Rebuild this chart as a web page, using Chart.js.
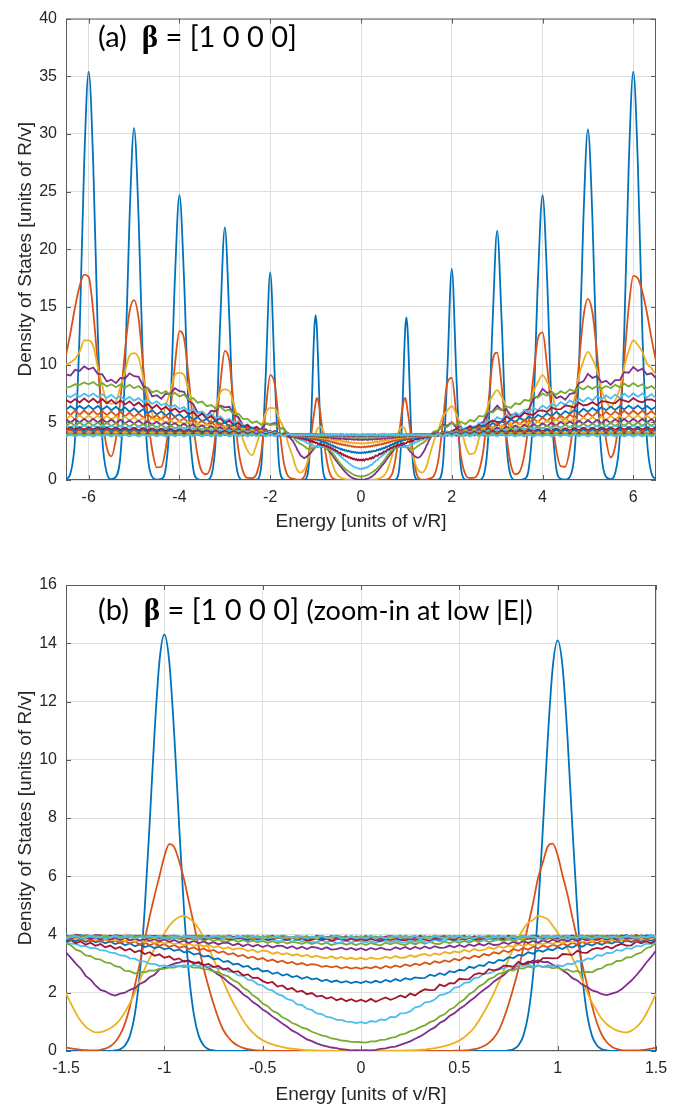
<!DOCTYPE html>
<html>
<head>
<meta charset="utf-8">
<title>Density of States, beta = [1 0 0 0]</title>
<script src="https://cdn.jsdelivr.net/npm/chart.js@4.4.1/dist/chart.umd.min.js"></script>
<style>
  html, body { margin: 0; padding: 0; background: #fff; }
  #wrap { position: relative; width: 682px; height: 1109px; }
  canvas { position: absolute; left: 0; }
  #dosA { top: 0; }
  #dosB { top: 540px; }
</style>
</head>
<body>
<div id="wrap">
  <canvas id="dosA" width="682" height="540"></canvas>
  <canvas id="dosB" width="682" height="569"></canvas>
</div>
<script>
// |E| grid shared by all curves: 0.025 steps up to 1.5, then 0.1 steps out to 6.5
const absE = [];
for (let i = 0; i <= 60; i++) absE.push(+(i * 0.025).toFixed(3));
for (let j = 16; j <= 65; j++) absE.push(j / 10);

// tick marks
const ticksEa = [-6, -4, -2, 0, 2, 4, 6];
const ticksDa = [0, 5, 10, 15, 20, 25, 30, 35, 40];
const ticksEb = [-1.5, -1, -0.5, 0, 0.5, 1, 1.5];
const ticksDb = [0, 2, 4, 6, 8, 10, 12, 14, 16];

// DOS curves. "p" arrays: E = +absE[0..110]; "n" arrays: E = -absE[1..110]
const dos01p = [
0,0,0,0,0,0,0,0,0,0,
0,0,0,0,0,0,0,0,0,0,
0,0,0,0,0,0,0,0,0,0,
0.02,0.06,0.19,0.51,1.24,2.6,4.78,7.67,10.76,13.18,
14.1,13.18,10.76,7.67,4.78,2.6,1.24,0.51,0.19,0.06,
0.02,0,0,0,0,0,0,0,0,0,
0,0,0.04,1.15,9.16,18.3,9.16,1.15,0.04,0,
0,0,0.37,3.52,13.7,21.6,13.7,3.52,0.37,0,
0,0.1,1.08,6.16,17.5,24.7,17.5,6.16,1.08,0.1,
0.02,0.27,2.13,9.3,22.6,30.4,22.6,9.3,2.13,0.27,
0.08,0.6,3.56,12.8,27.4,35.4,27.4,12.8,3.56,0.6,
0.06];
const dos01n = [
0,0,0,0,0,0,0,0,0,
0,0,0,0,0,0,0,0,0,0,
0,0,0,0,0,0,0,0,0,0,
0.02,0.06,0.19,0.52,1.26,2.64,4.85,7.78,10.91,13.37,
14.3,13.37,10.91,7.78,4.85,2.64,1.26,0.52,0.19,0.06,
0.02,0,0,0,0,0,0,0,0,0,
0,0,0.04,1.13,9.0,18.0,9.0,1.13,0.04,0,
0,0,0.37,3.57,13.9,21.9,13.9,3.57,0.37,0,
0,0.1,1.08,6.16,17.5,24.7,17.5,6.16,1.08,0.1,
0.02,0.27,2.14,9.33,22.7,30.5,22.7,9.33,2.14,0.27,
0.08,0.6,3.56,12.8,27.4,35.4,27.4,12.8,3.56,0.6,
0.06];

const dos02p = [
0,0,0,0,0,0,0,0,0,0,
0,0,0,0,0,0,0,0,0,0.01,
0.01,0.02,0.03,0.06,0.1,0.17,0.28,0.45,0.7,1.1,
1.6,2.17,2.8,3.53,4.32,5.08,5.93,6.48,7.03,7.12,
6.72,6.02,5.37,4.58,3.82,2.98,2.26,1.54,0.96,0.55,
0.3,0.15,0.07,0.03,0.02,0.02,0.02,0.03,0.05,0.08,
0.12,0.33,1.64,4.8,8.4,8.85,5.7,2.1,0.5,0.17,
0.2,0.8,2.7,6.4,10.3,11.05,8.1,4.0,1.35,0.5,
0.75,2.2,5.1,9.1,12.3,12.8,9.9,5.8,2.7,1.2,
1.15,2.65,5.65,10.0,14.1,15.7,14.5,11.0,6.8,3.5,
1.95,2.9,5.8,10.4,15.0,17.7,17.5,16.3,14.5,12.3,
10.3];
const dos02n = [
0,0,0,0,0,0,0,0,0,
0,0,0,0,0,0,0,0,0,0.01,
0.01,0.02,0.04,0.06,0.11,0.18,0.29,0.47,0.72,1.12,
1.62,2.2,2.84,3.58,4.36,5.12,5.9,6.52,7.0,7.1,
6.68,6.0,5.33,4.6,3.8,3.0,2.24,1.52,0.95,0.56,
0.31,0.16,0.08,0.04,0.02,0.02,0.03,0.04,0.06,0.09,
0.12,0.3,1.5,4.6,8.3,9.1,6.0,2.3,0.55,0.17,
0.18,0.75,2.6,6.3,10.3,11.2,8.3,4.1,1.4,0.5,
0.7,2.1,5.0,9.0,12.3,12.9,10.0,5.9,2.8,1.15,
1.1,2.6,5.6,9.9,14.0,15.6,14.6,11.2,7.0,3.6,
2.05,2.8,5.5,10.0,14.6,17.6,17.8,16.8,15.0,12.8,
10.8];

const dos03p = [
0,0,0,0,0,0,0.01,0.01,0.01,0.02,
0.02,0.03,0.04,0.05,0.07,0.1,0.13,0.17,0.22,0.28,
0.36,0.47,0.62,0.8,1.05,1.33,1.64,1.98,2.36,2.74,
3.14,3.52,3.88,4.18,4.4,4.5,4.63,4.6,4.52,4.3,
4.06,3.8,3.52,3.2,2.84,2.44,2.02,1.66,1.36,1.1,
0.92,0.8,0.71,0.66,0.64,0.7,0.82,1.0,1.27,1.6,
1.97,3.3,4.3,5.5,6.0,6.4,5.7,4.7,3.0,2.25,
2.35,3.6,4.9,6.5,7.3,7.8,7.2,6.3,4.8,4.1,
3.85,4.7,5.9,7.6,8.5,9.1,8.5,7.6,6.1,5.4,
5.0,5.8,7.0,9.0,10.3,11.1,10.5,9.5,7.8,6.9,
6.3,6.9,7.9,9.8,11.2,12.1,11.7,11.1,10.1,9.7,
9.1];
const dos03n = [
0,0,0,0,0,0.01,0.01,0.01,0.02,
0.02,0.03,0.04,0.06,0.08,0.1,0.14,0.18,0.23,0.29,
0.37,0.48,0.63,0.82,1.06,1.35,1.66,2.0,2.38,2.76,
3.16,3.54,3.9,4.2,4.42,4.56,4.64,4.6,4.48,4.3,
4.04,3.78,3.5,3.18,2.82,2.42,2.0,1.64,1.34,1.08,
0.9,0.78,0.7,0.65,0.64,0.71,0.84,1.03,1.3,1.63,
1.97,3.1,4.45,5.3,6.2,6.25,5.8,4.4,3.1,2.15,
2.55,3.5,5.2,6.5,7.7,7.85,7.6,6.3,5.2,4.0,
4.1,4.7,6.4,7.8,9.1,9.3,9.1,7.7,6.5,5.3,
5.3,5.7,7.3,8.9,10.6,11.0,10.8,9.4,8.1,6.8,
6.6,6.8,8.2,9.8,11.6,12.1,12.1,11.1,10.5,10.2,
10.0];

const dos04p = [
0.02,0.03,0.02,0.04,0.07,0.09,0.13,0.15,0.21,0.27,
0.33,0.42,0.5,0.6,0.72,0.81,0.96,1.05,1.2,1.3,
1.44,1.55,1.7,1.82,1.97,2.1,2.22,2.38,2.5,2.6,
2.76,2.83,2.96,2.98,3.07,3.02,3.12,3.05,3.06,2.96,
2.9,2.76,2.66,2.5,2.42,2.28,2.2,2.08,2.03,1.95,
1.92,1.97,2.02,2.12,2.27,2.42,2.6,2.8,3.03,3.22,
3.45,4.1,4.25,4.8,4.7,5.0,4.55,4.6,4.2,4.45,
4.3,4.85,5.05,5.85,5.95,6.45,6.05,6.15,5.6,5.75,
5.45,6.0,6.15,7.05,7.25,7.9,7.55,7.65,7.1,7.25,
6.95,7.45,7.55,8.4,8.55,9.2,8.85,9.0,8.45,8.6,
8.25,8.65,8.65,9.35,9.3,9.8,9.45,9.65,9.15,9.25,
8.8];
const dos04n = [
0.03,0.02,0.05,0.06,0.1,0.12,0.16,0.2,0.26,
0.34,0.4,0.51,0.62,0.7,0.83,0.94,1.07,1.18,1.32,
1.42,1.57,1.68,1.84,1.95,2.12,2.24,2.36,2.52,2.62,
2.74,2.86,2.93,3.02,3.04,3.08,3.1,3.03,3.0,2.93,
2.86,2.8,2.62,2.53,2.38,2.3,2.16,2.1,2.0,1.97,
1.9,1.95,2.05,2.1,2.25,2.45,2.58,2.83,3.0,3.2,
3.38,3.8,4.45,4.5,4.95,4.8,4.9,4.4,4.55,4.2,
4.6,4.7,5.45,5.65,6.35,6.3,6.45,5.95,6.0,5.55,
5.85,5.85,6.6,6.85,7.65,7.7,7.95,7.45,7.5,7.05,
7.35,7.25,7.95,8.15,8.95,9.0,9.25,8.8,8.85,8.4,
8.7,8.55,9.15,9.2,9.75,9.6,9.85,9.45,9.55,9.05,
9.15];

const dos05p = [
0.3,0.29,0.33,0.33,0.38,0.39,0.45,0.48,0.56,0.6,
0.68,0.73,0.82,0.88,0.99,1.05,1.19,1.26,1.42,1.5,
1.67,1.77,1.95,2.05,2.22,2.31,2.47,2.53,2.66,2.68,
2.78,2.76,2.85,2.83,2.9,2.86,2.93,2.88,2.9,2.84,
2.87,2.78,2.8,2.72,2.75,2.67,2.72,2.7,2.8,2.84,
2.96,2.98,3.09,3.1,3.21,3.22,3.33,3.38,3.53,3.58,
3.72,4.2,4.3,4.7,4.6,4.95,4.75,5.05,4.85,5.2,
5.1,5.55,5.5,5.95,5.85,6.2,6.05,6.4,6.25,6.65,
6.55,6.95,6.85,7.25,7.15,7.5,7.3,7.6,7.4,7.7,
7.5,7.85,7.7,8.05,7.85,8.15,7.9,8.15,7.9,8.15,
7.95,8.25,8.05,8.35,8.1,8.4,8.1,8.3,7.95,8.15,
7.85];
const dos05n = [
0.31,0.31,0.35,0.36,0.41,0.43,0.5,0.54,0.6,
0.66,0.76,0.8,0.9,0.96,1.08,1.16,1.3,1.38,1.54,
1.63,1.8,1.91,2.08,2.18,2.35,2.43,2.56,2.61,2.71,
2.73,2.8,2.81,2.87,2.86,2.91,2.88,2.92,2.86,2.87,
2.82,2.83,2.76,2.77,2.7,2.72,2.66,2.74,2.75,2.88,
2.91,3.02,3.04,3.14,3.16,3.26,3.28,3.42,3.48,3.63,
3.7,4.0,4.45,4.5,4.85,4.75,4.95,4.8,5.1,4.95,
5.3,5.3,5.75,5.7,6.1,6.0,6.35,6.2,6.5,6.4,
6.8,6.7,7.1,7.0,7.4,7.25,7.55,7.35,7.7,7.5,
7.75,7.6,8.0,7.8,8.15,7.95,8.25,8.0,8.3,8.05,
8.3,8.1,8.4,8.2,8.5,8.3,8.45,8.25,8.3,8.1,
8.0];

const dos06p = [
0.99,0.95,1.03,1.0,1.08,1.06,1.17,1.16,1.29,1.3,
1.36,1.5,1.53,1.67,1.69,1.77,1.92,1.95,2.02,2.18,
2.2,2.34,2.36,2.5,2.53,2.66,2.67,2.72,2.84,2.82,
2.91,2.87,2.96,2.92,2.97,2.9,2.95,2.89,2.95,2.9,
2.95,2.91,3.0,2.98,3.09,3.07,3.18,3.16,3.29,3.27,
3.37,3.36,3.47,3.44,3.53,3.51,3.61,3.59,3.69,3.68,
3.75,3.95,3.8,4.12,3.98,4.3,4.15,4.55,4.38,4.72,
4.55,4.95,4.8,5.2,5.02,5.45,5.25,5.65,5.45,5.85,
5.65,6.08,5.85,6.25,6.05,6.45,6.2,6.6,6.38,6.75,
6.52,6.9,6.65,7.05,6.8,7.15,6.9,7.28,6.98,7.33,
7.05,7.4,7.12,7.48,7.18,7.52,7.2,7.5,7.15,7.45,
7.1];
const dos06n = [
0.96,1.0,1.01,1.07,1.07,1.15,1.17,1.27,1.29,
1.41,1.45,1.58,1.6,1.74,1.78,1.9,1.95,2.08,2.12,
2.25,2.29,2.42,2.45,2.58,2.6,2.72,2.73,2.83,2.83,
2.9,2.89,2.95,2.91,2.96,2.91,2.95,2.9,2.94,2.89,
2.94,2.92,2.99,2.99,3.08,3.08,3.17,3.18,3.27,3.28,
3.36,3.38,3.45,3.46,3.53,3.53,3.6,3.6,3.68,3.69,
3.74,3.84,3.97,3.92,4.2,4.08,4.42,4.3,4.62,4.5,
4.82,4.7,5.08,4.95,5.3,5.15,5.52,5.35,5.72,5.55,
5.95,5.78,6.15,5.95,6.32,6.15,6.5,6.3,6.65,6.48,
6.82,6.6,6.95,6.75,7.1,6.88,7.2,6.95,7.28,7.05,
7.38,7.12,7.45,7.2,7.5,7.25,7.5,7.2,7.45,7.18,
7.35];

const dos07p = [
1.76,1.69,1.79,1.69,1.77,1.84,1.76,1.82,1.91,1.84,
1.97,1.91,2.03,2.12,2.09,2.1,2.28,2.22,2.33,2.32,
2.48,2.46,2.47,2.62,2.67,2.64,2.81,2.77,2.8,2.93,
2.92,2.89,3.06,2.98,3.02,3.11,3.03,3.19,3.19,3.18,
3.19,3.33,3.32,3.3,3.44,3.38,3.37,3.49,3.54,3.51,
3.59,3.52,3.62,3.68,3.62,3.63,3.76,3.7,3.77,3.7,
3.8,3.96,3.84,4.18,3.93,4.2,4.45,4.22,4.41,4.65,
4.41,4.77,4.59,4.93,5.16,5.03,5.04,5.5,5.28,5.53,
5.45,5.82,5.69,5.64,6.0,6.04,5.9,6.29,6.12,6.14,
6.46,6.4,6.27,6.7,6.46,6.54,6.75,6.49,6.84,6.8,
6.69,6.67,7.01,6.89,6.76,7.1,6.83,6.73,6.97,6.99,
6.79];
const dos07n = [
1.7,1.78,1.71,1.8,1.74,1.85,1.8,1.9,1.87,
1.99,1.95,2.07,2.03,2.16,2.12,2.25,2.21,2.37,2.33,
2.4,2.52,2.5,2.63,2.6,2.74,2.71,2.84,2.8,2.92,
2.88,2.99,2.95,3.06,3.0,3.11,3.06,3.18,3.13,3.25,
3.2,3.32,3.27,3.39,3.33,3.45,3.39,3.51,3.45,3.57,
3.51,3.62,3.56,3.67,3.61,3.72,3.65,3.76,3.7,3.8,
3.76,3.72,4.05,3.9,4.25,4.02,4.4,4.2,4.6,4.38,
4.78,4.55,4.95,4.75,5.15,4.95,5.35,5.12,5.55,5.3,
5.75,5.5,5.9,5.68,6.05,5.85,6.2,5.95,6.35,6.1,
6.5,6.22,6.6,6.35,6.72,6.45,6.82,6.55,6.9,6.6,
6.95,6.65,7.02,6.7,7.05,6.75,7.08,6.72,7.02,6.7,
6.95];

const dos08p = [
2.33,2.4,2.34,2.41,2.35,2.44,2.38,2.47,2.4,2.5,
2.45,2.53,2.5,2.51,2.62,2.57,2.67,2.61,2.74,2.7,
2.79,2.76,2.89,2.85,2.95,2.92,3.06,3.01,3.13,3.1,
3.22,3.19,3.3,3.28,3.39,3.34,3.46,3.41,3.5,3.46,
3.56,3.5,3.6,3.55,3.64,3.58,3.68,3.62,3.71,3.65,
3.74,3.69,3.77,3.71,3.8,3.74,3.82,3.76,3.84,3.78,
3.85,3.78,4.05,3.88,4.2,4.0,4.35,4.12,4.48,4.28,
4.62,4.4,4.75,4.55,4.95,4.72,5.1,4.88,5.25,5.02,
5.38,5.15,5.5,5.28,5.65,5.42,5.78,5.52,5.9,5.62,
5.98,5.72,6.08,5.82,6.18,5.9,6.25,5.98,6.32,6.05,
6.36,6.08,6.4,6.12,6.45,6.15,6.45,6.12,6.42,6.1,
6.38];
const dos08n = [
2.38,2.33,2.4,2.35,2.42,2.37,2.45,2.4,2.49,
2.46,2.54,2.48,2.58,2.54,2.64,2.59,2.7,2.65,2.76,
2.73,2.84,2.8,2.92,2.89,3.0,2.97,3.09,3.06,3.18,
3.15,3.27,3.24,3.35,3.31,3.42,3.39,3.49,3.44,3.54,
3.49,3.58,3.53,3.62,3.57,3.66,3.6,3.7,3.63,3.73,
3.67,3.76,3.7,3.78,3.73,3.81,3.75,3.83,3.77,3.85,
3.8,3.95,3.85,4.1,3.95,4.28,4.08,4.42,4.2,4.55,
4.35,4.7,4.48,4.85,4.62,5.0,4.78,5.18,4.92,5.3,
5.08,5.45,5.22,5.6,5.35,5.72,5.48,5.85,5.58,5.95,
5.68,6.05,5.78,6.15,5.85,6.22,5.92,6.3,6.0,6.35,
6.05,6.4,6.1,6.42,6.12,6.45,6.15,6.42,6.12,6.4,
6.1];

const dos09p = [
2.82,2.88,2.84,2.9,2.83,2.92,2.86,2.94,2.88,2.97,
2.92,3.0,2.95,3.04,2.98,3.08,3.03,3.11,3.06,3.17,
3.11,3.22,3.17,3.27,3.22,3.33,3.28,3.39,3.34,3.45,
3.39,3.5,3.44,3.54,3.48,3.58,3.52,3.62,3.56,3.65,
3.59,3.69,3.62,3.72,3.65,3.74,3.68,3.77,3.7,3.79,
3.72,3.81,3.74,3.83,3.76,3.85,3.78,3.87,3.8,3.89,
3.82,4.02,3.82,4.14,3.92,4.25,4.02,4.38,4.12,4.5,
4.22,4.6,4.35,4.75,4.48,4.88,4.6,5.0,4.7,5.1,
4.82,5.22,4.92,5.32,5.02,5.42,5.1,5.5,5.2,5.6,
5.3,5.68,5.38,5.75,5.45,5.82,5.5,5.88,5.55,5.92,
5.6,5.95,5.65,6.0,5.68,6.02,5.68,6.0,5.66,5.98,
5.62];
const dos09n = [
2.87,2.83,2.89,2.84,2.91,2.87,2.92,2.89,2.96,
2.98,2.94,3.02,2.97,3.06,3.01,3.1,3.05,3.14,3.09,
3.19,3.14,3.24,3.19,3.3,3.25,3.36,3.31,3.42,3.37,
3.47,3.42,3.52,3.46,3.56,3.5,3.6,3.54,3.64,3.57,
3.67,3.61,3.7,3.63,3.73,3.66,3.76,3.69,3.78,3.71,
3.8,3.73,3.82,3.75,3.84,3.77,3.86,3.79,3.88,3.81,
3.9,3.78,4.05,3.88,4.18,3.98,4.3,4.08,4.42,4.2,
4.55,4.3,4.68,4.42,4.8,4.55,4.92,4.65,5.05,4.78,
5.15,4.88,5.25,4.98,5.35,5.08,5.45,5.15,5.55,5.25,
5.62,5.35,5.7,5.42,5.78,5.48,5.85,5.52,5.9,5.58,
5.94,5.62,5.98,5.65,6.0,5.68,6.02,5.66,6.0,5.65,
5.98];

const dos10p = [
3.2,3.14,3.21,3.16,3.17,3.24,3.18,3.26,3.2,3.21,
3.29,3.23,3.3,3.33,3.27,3.35,3.3,3.4,3.35,3.42,
3.38,3.47,3.41,3.5,3.45,3.47,3.56,3.5,3.59,3.54,
3.62,3.57,3.66,3.6,3.68,3.62,3.7,3.66,3.73,3.68,
3.76,3.7,3.77,3.72,3.8,3.74,3.81,3.76,3.84,3.78,
3.84,3.79,3.87,3.81,3.88,3.82,3.9,3.83,3.9,3.85,
3.9,3.8,4.06,3.88,4.15,3.95,4.25,4.04,4.32,4.12,
4.42,4.2,4.5,4.3,4.62,4.4,4.75,4.5,4.82,4.6,
4.92,4.68,5.0,4.75,5.1,4.82,5.18,4.9,5.25,4.98,
5.32,5.02,5.36,5.08,5.42,5.12,5.48,5.16,5.52,5.2,
5.56,5.24,5.58,5.26,5.6,5.28,5.62,5.27,5.6,5.25,
5.58];
const dos10n = [
3.15,3.2,3.16,3.23,3.17,3.25,3.19,3.21,3.27,
3.22,3.3,3.25,3.32,3.28,3.36,3.31,3.39,3.34,3.43,
3.45,3.39,3.48,3.43,3.51,3.53,3.48,3.56,3.51,3.6,
3.56,3.64,3.59,3.66,3.61,3.69,3.64,3.71,3.67,3.74,
3.69,3.76,3.71,3.78,3.73,3.8,3.75,3.82,3.77,3.84,
3.78,3.85,3.8,3.87,3.81,3.88,3.83,3.89,3.84,3.9,
3.86,4.0,3.85,4.1,3.92,4.2,4.0,4.3,4.08,4.38,
4.18,4.48,4.28,4.58,4.36,4.68,4.45,4.78,4.55,4.86,
4.65,4.95,4.72,5.05,4.8,5.12,4.88,5.2,4.95,5.28,
5.02,5.35,5.06,5.4,5.1,5.45,5.15,5.5,5.18,5.52,
5.22,5.56,5.24,5.58,5.26,5.6,5.28,5.6,5.26,5.6,
5.24];

const dos11p = [
3.53,3.46,3.54,3.48,3.55,3.49,3.47,3.56,3.5,3.57,
3.49,3.57,3.51,3.59,3.52,3.6,3.54,3.55,3.62,3.56,
3.64,3.57,3.66,3.6,3.68,3.62,3.7,3.64,3.65,3.73,
3.67,3.75,3.69,3.77,3.71,3.78,3.72,3.8,3.74,3.82,
3.76,3.83,3.77,3.85,3.78,3.86,3.8,3.87,3.81,3.88,
3.82,3.89,3.83,3.9,3.85,3.91,3.86,3.92,3.87,3.93,
3.88,4.05,3.85,4.1,3.9,4.18,3.98,4.25,4.05,4.3,
4.1,4.38,4.18,4.48,4.25,4.56,4.32,4.64,4.4,4.72,
4.48,4.8,4.54,4.85,4.6,4.92,4.66,4.98,4.72,5.04,
4.76,5.08,4.8,5.14,4.86,5.18,4.88,5.22,4.92,5.24,
4.95,5.26,4.97,5.29,4.98,5.3,5.0,5.29,4.98,5.28,
4.96];
const dos11n = [
3.47,3.54,3.48,3.55,3.5,3.48,3.56,3.49,3.55,
3.57,3.5,3.58,3.51,3.6,3.53,3.61,3.62,3.55,3.63,
3.57,3.65,3.59,3.67,3.6,3.69,3.63,3.71,3.72,3.66,
3.74,3.68,3.76,3.7,3.78,3.71,3.79,3.73,3.81,3.75,
3.83,3.76,3.84,3.78,3.85,3.79,3.86,3.8,3.88,3.81,
3.89,3.82,3.9,3.83,3.91,3.84,3.92,3.86,3.93,3.87,
3.92,3.82,4.02,3.88,4.1,3.95,4.18,4.02,4.25,4.08,
4.36,4.15,4.45,4.22,4.52,4.3,4.6,4.36,4.68,4.45,
4.75,4.52,4.82,4.58,4.88,4.64,4.94,4.7,5.0,4.76,
5.05,4.8,5.1,4.84,5.15,4.88,5.18,4.9,5.22,4.94,
5.25,4.96,5.28,4.98,5.3,5.0,5.3,4.98,5.29,4.98,
5.27];

const dos12p = [
3.7,3.64,3.71,3.65,3.63,3.72,3.66,3.73,3.67,3.64,
3.73,3.66,3.74,3.68,3.75,3.69,3.67,3.76,3.7,3.77,
3.71,3.78,3.72,3.8,3.74,3.81,3.75,3.78,3.83,3.77,
3.84,3.78,3.86,3.79,3.87,3.8,3.88,3.82,3.85,3.89,
3.83,3.9,3.84,3.91,3.85,3.92,3.86,3.88,3.93,3.87,
3.94,3.88,3.95,3.89,3.96,3.9,3.92,3.96,3.9,3.97,
3.91,3.82,4.06,3.88,4.12,3.92,4.16,3.98,4.22,4.02,
4.28,4.05,4.34,4.1,4.4,4.18,4.46,4.24,4.52,4.3,
4.58,4.34,4.62,4.4,4.68,4.44,4.72,4.48,4.76,4.52,
4.8,4.55,4.84,4.6,4.88,4.62,4.9,4.64,4.93,4.66,
4.95,4.68,4.96,4.7,4.98,4.71,4.99,4.7,4.97,4.7,
4.96];
const dos12n = [
3.64,3.7,3.65,3.71,3.69,3.64,3.72,3.66,3.73,
3.67,3.74,3.68,3.72,3.75,3.69,3.76,3.7,3.77,3.71,
3.78,3.73,3.79,3.74,3.81,3.75,3.82,3.77,3.76,3.83,
3.78,3.85,3.8,3.86,3.81,3.87,3.82,3.84,3.89,3.83,
3.9,3.84,3.91,3.86,3.88,3.92,3.87,3.93,3.88,3.94,
3.89,3.95,3.9,3.96,3.9,3.94,3.97,3.91,3.97,3.92,
3.97,4.02,3.86,4.08,3.92,4.12,3.96,4.18,4.0,4.22,
4.06,4.3,4.1,4.36,4.14,4.42,4.2,4.48,4.26,4.54,
4.32,4.6,4.36,4.64,4.4,4.7,4.44,4.74,4.48,4.78,
4.52,4.82,4.56,4.86,4.6,4.9,4.62,4.92,4.64,4.95,
4.66,4.97,4.68,4.98,4.7,5.0,4.7,4.99,4.7,4.98,
4.69];

const dos13p = [
3.77,3.72,3.78,3.71,3.76,3.79,3.73,3.8,3.74,3.72,
3.79,3.74,3.81,3.75,3.73,3.82,3.76,3.8,3.83,3.77,
3.8,3.85,3.78,3.84,3.86,3.8,3.87,3.81,3.84,3.88,
3.82,3.89,3.84,3.87,3.9,3.85,3.91,3.86,3.89,3.92,
3.86,3.93,3.87,3.91,3.94,3.88,3.95,3.89,3.92,3.96,
3.9,3.96,3.91,3.94,3.97,3.92,3.98,3.93,3.96,3.99,
3.93,4.04,3.86,4.08,3.9,4.13,3.94,4.16,3.98,4.2,
4.02,4.24,4.05,4.29,4.1,4.33,4.14,4.38,4.2,4.42,
4.24,4.46,4.27,4.5,4.32,4.53,4.35,4.57,4.38,4.6,
4.4,4.64,4.43,4.66,4.46,4.68,4.48,4.71,4.5,4.72,
4.52,4.74,4.53,4.75,4.54,4.76,4.54,4.76,4.53,4.75,
4.52];
const dos13n = [
3.78,3.72,3.79,3.73,3.71,3.78,3.74,3.81,3.75,
3.73,3.8,3.76,3.82,3.76,3.83,3.78,3.77,3.84,3.79,
3.85,3.79,3.86,3.8,3.84,3.87,3.82,3.88,3.83,3.86,
3.9,3.84,3.91,3.86,3.89,3.92,3.87,3.93,3.88,3.91,
3.94,3.89,3.95,3.9,3.93,3.96,3.9,3.97,3.92,3.95,
3.98,3.93,3.97,3.94,3.99,3.93,3.98,3.95,4.0,3.94,
3.97,3.88,4.06,3.92,4.1,3.96,4.14,4.0,4.18,4.02,
4.24,4.06,4.28,4.1,4.32,4.14,4.36,4.18,4.4,4.22,
4.44,4.26,4.48,4.3,4.52,4.34,4.56,4.36,4.58,4.4,
4.62,4.42,4.64,4.45,4.67,4.47,4.69,4.5,4.7,4.52,
4.73,4.53,4.74,4.54,4.75,4.55,4.76,4.55,4.75,4.54,
4.74];

const dos14p = [
3.84,3.79,3.86,3.8,3.78,3.85,3.81,3.87,3.82,3.8,
3.86,3.81,3.88,3.82,3.8,3.87,3.83,3.89,3.84,3.82,
3.88,3.83,3.9,3.85,3.82,3.89,3.86,3.91,3.87,3.84,
3.9,3.86,3.92,3.87,3.85,3.91,3.88,3.93,3.89,3.86,
3.92,3.88,3.94,3.89,3.87,3.93,3.9,3.95,3.91,3.88,
3.94,3.9,3.96,3.91,3.89,3.95,3.92,3.97,3.93,3.9,
3.95,3.86,4.06,3.9,4.1,3.91,4.12,3.95,4.15,3.98,
4.18,3.99,4.22,4.03,4.26,4.07,4.28,4.1,4.32,4.13,
4.35,4.15,4.38,4.18,4.4,4.22,4.43,4.24,4.46,4.27,
4.48,4.28,4.5,4.3,4.52,4.32,4.53,4.34,4.55,4.35,
4.56,4.36,4.57,4.37,4.58,4.38,4.58,4.38,4.57,4.37,
4.57];
const dos14n = [
3.8,3.85,3.79,3.86,3.83,3.78,3.86,3.81,3.87,
3.82,3.8,3.87,3.83,3.88,3.81,3.86,3.89,3.84,3.82,
3.89,3.84,3.9,3.82,3.87,3.91,3.85,3.83,3.9,3.86,
3.92,3.87,3.85,3.91,3.93,3.88,3.86,3.92,3.94,3.89,
3.87,3.93,3.95,3.89,3.88,3.94,3.96,3.9,3.89,3.95,
3.97,3.91,3.9,3.96,3.98,3.92,3.91,3.97,3.98,3.93,
3.92,4.02,3.88,4.06,3.92,4.1,3.94,4.12,3.97,4.15,
4.0,4.19,4.03,4.22,4.06,4.25,4.08,4.28,4.12,4.31,
4.14,4.34,4.17,4.37,4.2,4.4,4.23,4.43,4.26,4.45,
4.28,4.47,4.3,4.49,4.32,4.51,4.34,4.53,4.36,4.55,
4.37,4.56,4.38,4.57,4.39,4.58,4.38,4.58,4.37,4.57,
4.38];

const dos15p = [
3.88,3.83,3.9,3.84,3.82,3.89,3.85,3.91,3.83,3.88,
3.92,3.85,3.89,3.84,3.91,3.87,3.83,3.9,3.86,3.92,
3.87,3.84,3.91,3.88,3.93,3.86,3.9,3.85,3.92,3.89,
3.94,3.87,3.9,3.86,3.93,3.89,3.95,3.88,3.91,3.87,
3.94,3.9,3.96,3.88,3.92,3.89,3.95,3.91,3.97,3.9,
3.93,3.89,3.96,3.92,3.98,3.9,3.94,3.91,3.97,3.93,
3.95,3.84,4.04,3.88,4.08,3.9,4.1,3.92,4.11,3.93,
4.13,3.94,4.16,3.97,4.18,3.99,4.2,4.02,4.23,4.04,
4.25,4.06,4.27,4.08,4.29,4.1,4.31,4.12,4.33,4.14,
4.35,4.15,4.36,4.17,4.38,4.18,4.39,4.19,4.4,4.2,
4.4,4.21,4.41,4.22,4.42,4.22,4.42,4.22,4.42,4.21,
4.4];
const dos15n = [
3.84,3.9,3.85,3.82,3.89,3.86,3.92,3.84,3.88,
3.85,3.91,3.87,3.84,3.9,3.86,3.92,3.88,3.85,3.91,
3.87,3.93,3.85,3.89,3.91,3.86,3.92,3.88,3.94,3.87,
3.9,3.93,3.88,3.95,3.89,3.92,3.87,3.94,3.9,3.96,
3.89,3.93,3.9,3.95,3.91,3.97,3.89,3.94,3.92,3.96,
3.9,3.95,3.92,3.97,3.91,3.96,3.93,3.98,3.92,3.95,
3.94,4.03,3.86,4.06,3.89,4.08,3.91,4.1,3.93,4.12,
3.95,4.15,3.97,4.17,3.99,4.19,4.01,4.21,4.03,4.24,
4.05,4.26,4.07,4.28,4.09,4.3,4.11,4.32,4.13,4.34,
4.15,4.35,4.16,4.37,4.18,4.38,4.19,4.39,4.2,4.4,
4.21,4.41,4.22,4.42,4.22,4.42,4.22,4.42,4.21,4.41,
4.21];

const dos16p = [
3.86,3.92,3.87,3.9,3.84,3.93,3.88,3.85,3.91,3.87,
3.93,3.86,3.89,3.94,3.87,3.92,3.85,3.9,3.95,3.88,
3.91,3.87,3.94,3.89,3.86,3.93,3.9,3.95,3.88,3.92,
3.87,3.94,3.9,3.96,3.88,3.92,3.89,3.95,3.91,3.87,
3.94,3.9,3.96,3.89,3.93,3.97,3.9,3.94,3.88,3.95,
3.91,3.97,3.92,3.89,3.96,3.93,3.98,3.9,3.95,3.92,
3.96,4.03,3.86,4.05,3.88,4.06,3.89,4.08,3.91,4.08,
3.92,4.1,3.94,4.12,3.95,4.13,3.96,4.15,3.98,4.17,
4.0,4.18,4.01,4.2,4.03,4.21,4.04,4.22,4.05,4.23,
4.07,4.24,4.08,4.25,4.09,4.26,4.1,4.27,4.1,4.28,
4.1,4.29,4.11,4.3,4.11,4.3,4.11,4.3,4.11,4.29,
4.11];
const dos16n = [
3.9,3.85,3.92,3.87,3.84,3.91,3.88,3.93,3.86,
3.89,3.92,3.86,3.93,3.88,3.85,3.91,3.94,3.87,3.9,
3.93,3.88,3.86,3.92,3.95,3.89,3.91,3.87,3.94,3.9,
3.88,3.95,3.91,3.87,3.93,3.96,3.9,3.88,3.94,3.92,
3.89,3.95,3.93,3.9,3.96,3.91,3.88,3.95,3.97,3.92,
3.9,3.96,3.93,3.98,3.91,3.95,3.97,3.92,3.96,3.94,
3.9,4.02,3.86,4.04,3.87,4.05,3.89,4.07,3.9,4.08,
3.92,4.09,3.93,4.11,3.95,4.12,3.96,4.14,3.98,4.16,
3.99,4.17,4.0,4.18,4.02,4.2,4.03,4.21,4.04,4.22,
4.06,4.23,4.07,4.24,4.08,4.25,4.09,4.26,4.09,4.27,
4.1,4.28,4.1,4.29,4.11,4.29,4.11,4.29,4.11,4.28,
4.29];

const dos17p = [
3.93,3.87,3.91,3.85,3.94,3.89,3.86,3.92,3.88,3.95,
3.9,3.86,3.93,3.88,3.84,3.91,3.95,3.89,3.87,3.94,
3.88,3.92,3.86,3.95,3.9,3.87,3.93,3.89,3.96,3.91,
3.87,3.94,3.9,3.86,3.92,3.96,3.89,3.93,3.88,3.95,
3.91,3.87,3.94,3.9,3.97,3.92,3.88,3.95,3.91,3.96,
3.89,3.94,3.92,3.97,3.9,3.95,3.93,3.89,3.96,3.92,
3.94,3.82,3.99,3.84,4.0,3.85,4.02,3.86,4.03,3.87,
4.04,3.88,4.05,3.89,4.06,3.9,4.07,3.91,4.08,3.92,
4.09,3.93,4.1,3.94,4.11,3.95,4.12,3.96,4.13,3.97,
4.14,3.98,4.15,3.99,4.16,4.0,4.17,4.0,4.17,4.01,
4.18,4.01,4.18,4.02,4.19,4.02,4.19,4.02,4.18,4.02,
4.18];
const dos17n = [
3.88,3.93,3.86,3.91,3.95,3.87,3.9,3.94,3.86,
3.92,3.88,3.95,3.86,3.91,3.89,3.94,3.87,3.93,3.9,
3.86,3.94,3.89,3.92,3.87,3.95,3.9,3.88,3.94,3.91,
3.95,3.88,3.92,3.96,3.89,3.93,3.87,3.94,3.91,3.96,
3.9,3.94,3.88,3.95,3.92,3.97,3.89,3.93,3.96,3.9,
3.95,3.92,3.97,3.9,3.94,3.96,3.91,3.95,3.93,3.97,
3.91,3.97,3.83,3.99,3.84,4.0,3.85,4.01,3.86,4.03,
3.87,4.04,3.88,4.05,3.89,4.06,3.9,4.07,3.91,4.08,
3.92,4.09,3.93,4.1,3.94,4.11,3.95,4.12,3.96,4.13,
3.97,4.14,3.98,4.15,3.99,4.16,3.99,4.17,4.0,4.17,
4.0,4.18,4.01,4.18,4.01,4.19,4.01,4.19,4.01,4.18,
4.0];

const dos18p = [
3.89,3.95,3.88,3.93,3.86,3.92,3.96,3.9,3.87,3.94,
3.91,3.88,3.96,3.9,3.93,3.86,3.92,3.95,3.89,3.94,
3.9,3.96,3.88,3.93,3.91,3.87,3.95,3.9,3.94,3.89,
3.96,3.91,3.88,3.94,3.9,3.97,3.92,3.89,3.95,3.91,
3.88,3.94,3.92,3.97,3.9,3.93,3.89,3.96,3.91,3.94,
3.9,3.95,3.92,3.97,3.93,3.89,3.96,3.92,3.95,3.93,
3.92,3.99,3.83,4.0,3.84,4.0,3.84,4.01,3.85,4.01,
3.86,4.02,3.86,4.03,3.87,4.03,3.87,4.04,3.88,4.04,
3.88,4.05,3.89,4.05,3.89,4.06,3.9,4.06,3.9,4.07,
3.91,4.07,3.91,4.08,3.91,4.08,3.92,4.08,3.92,4.09,
3.92,4.09,3.92,4.1,3.93,4.1,3.93,4.1,3.93,4.09,
3.92];
const dos18n = [
3.93,3.87,3.94,3.9,3.88,3.95,3.89,3.92,3.96,
3.88,3.93,3.9,3.95,3.87,3.92,3.94,3.89,3.96,3.91,
3.93,3.88,3.95,3.9,3.86,3.94,3.92,3.97,3.89,3.93,
3.9,3.95,3.92,3.88,3.96,3.91,3.94,3.89,3.97,3.92,
3.95,3.89,3.93,3.96,3.9,3.94,3.92,3.97,3.9,3.95,
3.92,3.96,3.9,3.94,3.97,3.91,3.95,3.93,3.96,3.91,
3.94,3.84,3.99,3.84,4.0,3.85,4.0,3.85,4.01,3.86,
4.01,3.86,4.02,3.87,4.02,3.87,4.03,3.88,4.03,3.88,
4.04,3.89,4.04,3.89,4.05,3.9,4.05,3.9,4.06,3.91,
4.06,3.91,4.07,3.92,4.07,3.92,4.08,3.92,4.08,3.93,
4.08,3.93,4.09,3.93,4.09,3.93,4.09,3.93,4.09,3.93,
4.08];

const dos19p = [
3.94,3.89,3.96,3.9,3.93,3.87,3.95,3.91,3.97,3.89,
3.92,3.96,3.88,3.94,3.9,3.97,3.91,3.89,3.95,3.92,
3.96,3.9,3.93,3.88,3.95,3.92,3.97,3.9,3.94,3.91,
3.89,3.95,3.92,3.97,3.9,3.94,3.88,3.96,3.91,3.93,
3.97,3.9,3.94,3.91,3.96,3.89,3.93,3.97,3.91,3.95,
3.92,3.88,3.96,3.93,3.9,3.97,3.92,3.95,3.89,3.94,
3.93,3.85,4.0,3.86,4.0,3.86,4.01,3.86,4.01,3.87,
4.01,3.87,4.02,3.87,4.02,3.87,4.02,3.88,4.02,3.88,
4.03,3.88,4.03,3.88,4.03,3.89,4.03,3.89,4.04,3.89,
4.04,3.89,4.04,3.89,4.04,3.89,4.04,3.9,4.04,3.9,
4.05,3.9,4.05,3.9,4.05,3.9,4.05,3.9,4.05,3.9,
4.04];
const dos19n = [
3.9,3.95,3.88,3.93,3.97,3.91,3.89,3.96,3.92,
3.88,3.94,3.91,3.96,3.89,3.93,3.97,3.9,3.92,3.95,
3.89,3.94,3.91,3.97,3.9,3.93,3.88,3.95,3.92,3.96,
3.91,3.88,3.94,3.97,3.9,3.95,3.92,3.89,3.96,3.93,
3.9,3.95,3.92,3.88,3.96,3.91,3.94,3.97,3.9,3.93,
3.96,3.91,3.94,3.89,3.97,3.92,3.95,3.9,3.94,3.96,
3.91,3.99,3.85,4.0,3.85,4.0,3.86,4.01,3.86,4.01,
3.87,4.01,3.87,4.02,3.87,4.02,3.87,4.02,3.88,4.02,
3.88,4.03,3.88,4.03,3.88,4.03,3.89,4.03,3.89,4.04,
3.89,4.04,3.89,4.04,3.89,4.04,3.9,4.04,3.9,4.04,
3.9,4.05,3.9,4.05,3.9,4.05,3.9,4.05,3.9,4.05,
3.9];

const dos20p = [
3.91,3.86,3.94,3.88,3.92,3.85,3.9,3.95,3.87,3.93,
3.89,3.94,3.86,3.91,3.88,3.95,3.9,3.86,3.93,3.89,
3.95,3.88,3.92,3.86,3.94,3.9,3.87,3.93,3.89,3.96,
3.88,3.92,3.86,3.95,3.9,3.93,3.87,3.91,3.94,3.89,
3.93,3.87,3.95,3.9,3.88,3.94,3.91,3.86,3.93,3.9,
3.88,3.94,3.9,3.86,3.95,3.91,3.88,3.93,3.9,3.95,
3.91,3.8,3.96,3.78,3.95,3.8,3.97,3.79,3.95,3.78,
3.96,3.79,3.95,3.77,3.94,3.8,3.96,3.78,3.94,3.77,
3.95,3.78,3.96,3.77,3.94,3.79,3.95,3.76,3.93,3.78,
3.94,3.76,3.95,3.78,3.93,3.77,3.94,3.76,3.93,3.78,
3.94,3.76,3.93,3.77,3.94,3.75,3.92,3.77,3.93,3.76,
3.92];
const dos20n = [
3.87,3.93,3.89,3.86,3.94,3.9,3.88,3.95,3.89,
3.93,3.87,3.91,3.95,3.88,3.92,3.86,3.94,3.9,3.87,
3.92,3.89,3.95,3.87,3.91,3.94,3.88,3.93,3.86,3.92,
3.95,3.89,3.91,3.87,3.94,3.9,3.96,3.88,3.92,3.89,
3.87,3.93,3.9,3.95,3.88,3.92,3.86,3.94,3.91,3.88,
3.94,3.9,3.87,3.93,3.89,3.95,3.9,3.87,3.94,3.91,
3.88,3.97,3.79,3.96,3.8,3.95,3.78,3.97,3.79,3.95,
3.78,3.96,3.79,3.94,3.77,3.95,3.8,3.94,3.78,3.96,
3.77,3.95,3.79,3.93,3.76,3.94,3.78,3.95,3.77,3.93,
3.78,3.94,3.76,3.93,3.77,3.95,3.76,3.93,3.77,3.94,
3.76,3.93,3.77,3.94,3.75,3.93,3.77,3.92,3.76,3.93,
3.76];

const curves = [
  [dos01p, dos01n], [dos02p, dos02n], [dos03p, dos03n], [dos04p, dos04n],
  [dos05p, dos05n], [dos06p, dos06n], [dos07p, dos07n], [dos08p, dos08n],
  [dos09p, dos09n], [dos10p, dos10n], [dos11p, dos11n], [dos12p, dos12n],
  [dos13p, dos13n], [dos14p, dos14n], [dos15p, dos15n], [dos16p, dos16n],
  [dos17p, dos17n], [dos18p, dos18n], [dos19p, dos19n], [dos20p, dos20n]
];

// MATLAB default line colour order
const palette = ['#0072BD', '#D95319', '#EDB120', '#7E2F8E', '#77AC30', '#4DBEEE', '#A2142F'];

curves.forEach(function (c, k) {
  if (c[0].length !== absE.length || c[1].length !== absE.length - 1) {
    console.error('curve ' + (k + 1) + ': ' + c[0].length + ' / ' + c[1].length + ' values');
  }
});

function toPoints(pos, neg) {
  const pts = [];
  for (let i = neg.length - 1; i >= 0; i--) pts.push({ x: -absE[i + 1], y: neg[i] });
  for (let i = 0; i < pos.length; i++) pts.push({ x: absE[i], y: pos[i] });
  return pts;
}

function buildDatasets() {
  return curves.map(function (c, k) {
    return {
      data: toPoints(c[0], c[1]),
      borderColor: palette[k % palette.length],
      borderWidth: 1.8,
      pointRadius: 0,
      fill: false,
      tension: 0,
      cubicInterpolationMode: k < 3 ? 'monotone' : 'default',
      // later curves are painted on top
      order: curves.length - k
    };
  });
}

// box with inward ticks on all four sides, plus the caption inside the axes
const matlabAxes = {
  id: 'matlabAxes',
  beforeDatasetsDraw(chart) {
    const ctx = chart.ctx;
    const a = chart.chartArea;
    const xs = chart.scales.x, ys = chart.scales.y;
    ctx.save();
    ctx.strokeStyle = '#5c5c5c';
    ctx.lineWidth = 1;
    ctx.strokeRect(a.left + 0.5, a.top + 0.5, a.right - a.left - 1, a.bottom - a.top - 1);
    ctx.beginPath();
    xs.ticks.forEach(function (t) {
      const px = Math.round(xs.getPixelForValue(t.value)) + 0.5;
      ctx.moveTo(px, a.bottom); ctx.lineTo(px, a.bottom - 5);
      ctx.moveTo(px, a.top); ctx.lineTo(px, a.top + 5);
    });
    ys.ticks.forEach(function (t) {
      const py = Math.round(ys.getPixelForValue(t.value)) + 0.5;
      ctx.moveTo(a.left, py); ctx.lineTo(a.left + 5, py);
      ctx.moveTo(a.right, py); ctx.lineTo(a.right - 5, py);
    });
    ctx.stroke();
    ctx.restore();
  },
  afterDraw(chart, args, opts) {
    if (!opts.parts) return;
    const ctx = chart.ctx;
    ctx.save();
    ctx.fillStyle = '#000';
    ctx.textBaseline = 'alphabetic';
    let x = opts.x;
    opts.parts.forEach(function (p) {
      ctx.font = p.font;
      ctx.fillText(p.text, x, opts.y);
      x += ctx.measureText(p.text).width;
    });
    ctx.restore();
  }
};

const tickFont = { family: 'Liberation Sans', size: 16 };
const titleFont = { family: 'Liberation Sans', size: 19 };

function makePanel(id, cfg) {
  return new Chart(document.getElementById(id), {
    type: 'line',
    data: { datasets: buildDatasets() },
    options: {
      responsive: false,
      animation: false,
      events: [],
      layout: { padding: { top: cfg.top, right: 26, bottom: 0, left: 0 } },
      plugins: {
        legend: { display: false },
        tooltip: { enabled: false },
        matlabAxes: cfg.caption
      },
      scales: {
        x: {
          type: 'linear',
          min: cfg.xRange[0],
          max: cfg.xRange[1],
          afterBuildTicks: function (s) { s.ticks = cfg.xTicks.map(function (v) { return { value: v }; }); },
          afterFit: function (s) { s.height = cfg.xAxisHeight; },
          grid: { color: '#dedede', drawTicks: false },
          border: { display: false },
          ticks: { padding: 8, color: '#262626', font: tickFont, maxRotation: 0, autoSkip: false,
                   callback: function (v) { return String(v); } },
          title: { display: true, text: 'Energy [units of v/R]', color: '#262626', font: titleFont,
                   padding: { top: 0, bottom: cfg.xTitlePad } }
        },
        y: {
          type: 'linear',
          min: cfg.yRange[0],
          max: cfg.yRange[1],
          afterBuildTicks: function (s) { s.ticks = cfg.yTicks.map(function (v) { return { value: v }; }); },
          afterFit: function (s) { s.width = 66; },
          grid: { color: '#dedede', drawTicks: false },
          border: { display: false },
          ticks: { padding: 9, color: '#262626', font: tickFont, autoSkip: false,
                   callback: function (v) { return String(v); } },
          title: { display: true, text: 'Density of States [units of R/v]', color: '#262626', font: titleFont,
                   padding: { top: 14, bottom: 0 } }
        }
      }
    },
    plugins: [matlabAxes]
  });
}

const capFont = '29px Lato';
const betaFont = 'bold 31px "Liberation Serif"';

makePanel('dosA', {
  top: 14, xAxisHeight: 60, xTitlePad: 7,
  xRange: [-6.5, 6.5], yRange: [0, 40], xTicks: ticksEa, yTicks: ticksDa,
  caption: { x: 98, y: 47, parts: [
    { text: '(a)  ', font: capFont },
    { text: '\u03B2', font: betaFont },
    { text: ' = [1 0 0 0]', font: capFont }
  ] }
});

makePanel('dosB', {
  top: 45, xAxisHeight: 58, xTitlePad: 3,
  xRange: [-1.5, 1.5], yRange: [0, 16], xTicks: ticksEb, yTicks: ticksDb,
  caption: { x: 98, y: 80, parts: [
    { text: '(b)  ', font: capFont },
    { text: '\u03B2', font: betaFont },
    { text: ' = [1 0 0 0] ', font: capFont },
    { text: '(zoom-in at low |E|)', font: '27px Lato' }
  ] }
});
</script>
</body>
</html>
